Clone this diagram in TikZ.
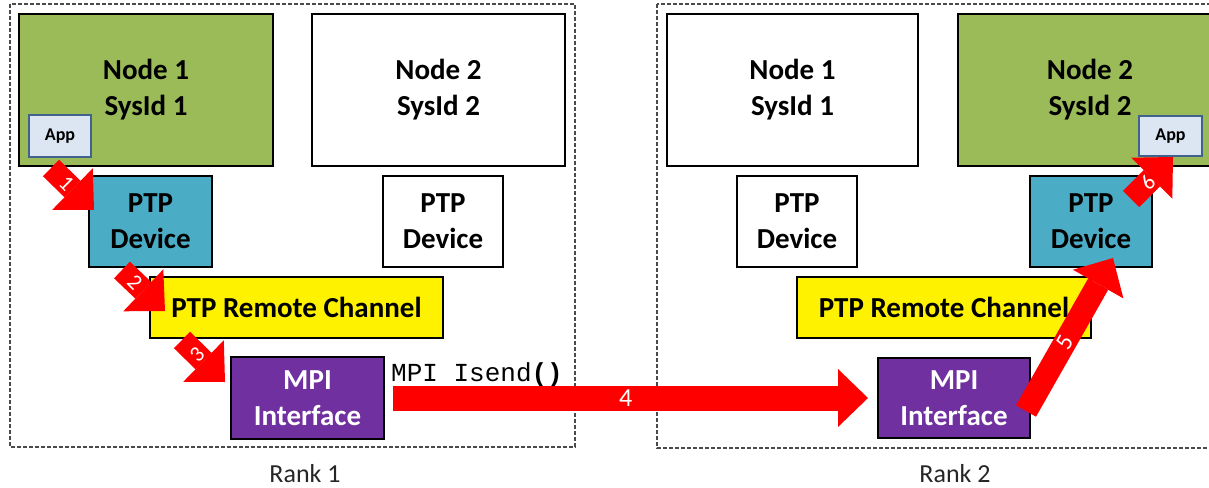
\documentclass[tikz,border=0pt]{standalone}
\usepackage{fontspec}
\setmainfont{Carlito}
\newfontfamily\monofam{Liberation Mono}
\usetikzlibrary{arrows.meta}
\definecolor{nodegreen}{HTML}{9BBB59}
\definecolor{ptpteal}{HTML}{4BACC6}
\definecolor{mpipurple}{HTML}{7030A0}
\definecolor{appfill}{HTML}{DCE6F2}
\definecolor{appborder}{HTML}{41628F}
\definecolor{panelgray}{HTML}{4A4A4A}
\begin{document}
\begin{tikzpicture}[x=1pt,y=-1pt,
 boxstyle/.style={draw=black, line width=2.5pt, inner sep=0pt, align=center, font=\fontsize{29}{36}\selectfont\bfseries},
 panel/.style={draw=panelgray, line width=1.3pt, dash pattern=on 4pt off 2pt},
 appbox/.style={draw=appborder, line width=2pt, fill=appfill, inner sep=0pt, font=\fontsize{18}{18}\selectfont\bfseries},
 redarrow/.style={draw=red, line width=23pt, -{Triangle[line width=0pt, width=58pt, length=30pt]}},
 arrowlabel/.style={text=white, inner sep=0pt, font=\fontsize{22}{22}\selectfont},
 ranklabel/.style={text=black!85, inner sep=0pt, font=\fontsize{26}{26}\selectfont}]
\useasboundingbox (0,0) rectangle (1209,487);
\clip (0,0) rectangle (1209,487);

% panels
\draw[panel] (10,4) rectangle (575,447);
\draw[panel] (657,4) rectangle (1240,448);
\node[ranklabel, anchor=base] (r1) at (305,482) {Rank 1};
\node[ranklabel, anchor=base] (r2) at (955,482) {Rank 2};

% rank 1
\node[boxstyle, fill=nodegreen, minimum width=254pt, minimum height=152pt] (n1a) at (146,90) {Node 1\\SysId 1};
\node[boxstyle, fill=white, minimum width=253pt, minimum height=152pt] (n2a) at (438.5,90) {Node 2\\SysId 2};
\node[appbox, minimum width=62pt, minimum height=42pt] (appa) at (60,136) {App};
\node[boxstyle, fill=ptpteal, minimum width=123pt, minimum height=91pt] (ptpa) at (150.5,221.5) {PTP\\Device};
\node[boxstyle, fill=white, minimum width=120pt, minimum height=91pt] (ptpb) at (443,221.5) {PTP\\Device};
\node[boxstyle, fill=yellow, minimum width=293pt, minimum height=61pt] (rca) at (296.5,307.5) {PTP Remote Channel};
\node[boxstyle, fill=mpipurple, text=white, minimum width=153pt, minimum height=82pt] (mpia) at (307.5,398) {MPI\\Interface};
\node[anchor=base west, inner sep=0pt, font=\monofam\fontsize{26}{26}\selectfont] (isend) at (391,381) {MPI Isend\textbf{()}};

% rank 2
\node[boxstyle, fill=white, minimum width=251pt, minimum height=152pt] (n1b) at (792.5,90) {Node 1\\SysId 1};
\node[boxstyle, fill=nodegreen, minimum width=264pt, minimum height=152pt] (n2b) at (1090,90) {Node 2\\SysId 2};
\node[appbox, minimum width=63pt, minimum height=40pt] (appb) at (1170.5,136) {App};
\node[boxstyle, fill=white, minimum width=120pt, minimum height=91pt] (ptpc) at (797,221.5) {PTP\\Device};
\node[boxstyle, fill=ptpteal, minimum width=122pt, minimum height=91pt] (ptpd) at (1091,221.5) {PTP\\Device};
\node[boxstyle, fill=yellow, minimum width=294pt, minimum height=61pt] (rcb) at (944,307.5) {PTP Remote Channel};
\node[boxstyle, fill=mpipurple, text=white, minimum width=152pt, minimum height=80pt] (mpib) at (954,398) {MPI\\Interface};

% arrow end points
\coordinate (t1) at (51,168);   \coordinate (h1) at (94,210);
\coordinate (t2) at (122,270);  \coordinate (h2) at (165,311);
\coordinate (t3) at (182,340);  \coordinate (h3) at (225,382);
\coordinate (t4) at (393,398);  \coordinate (h4) at (868,398);
\coordinate (t5) at (1026,411); \coordinate (h5) at (1113,258);
\coordinate (t6) at (1131,199); \coordinate (h6) at (1173,157);

\draw[redarrow] (t1) -- (h1) node[arrowlabel, pos=0.36, rotate=-45] {1};
\draw[redarrow] (t2) -- (h2) node[arrowlabel, pos=0.3, rotate=-45] {2};
\draw[redarrow] (t3) -- (h3) node[arrowlabel, pos=0.35, rotate=45] {3};
\draw[redarrow, line width=25pt] (t4) -- (h4) node[arrowlabel, pos=0.49, font=\fontsize{26}{26}\selectfont] {4};
\draw[redarrow] (t5) -- (h5) node[arrowlabel, pos=0.45, rotate=60, font=\fontsize{24}{24}\selectfont] {5};
\draw[redarrow] (t6) -- (h6) node[arrowlabel, pos=0.4, rotate=45] {6};
\end{tikzpicture}
\end{document}
